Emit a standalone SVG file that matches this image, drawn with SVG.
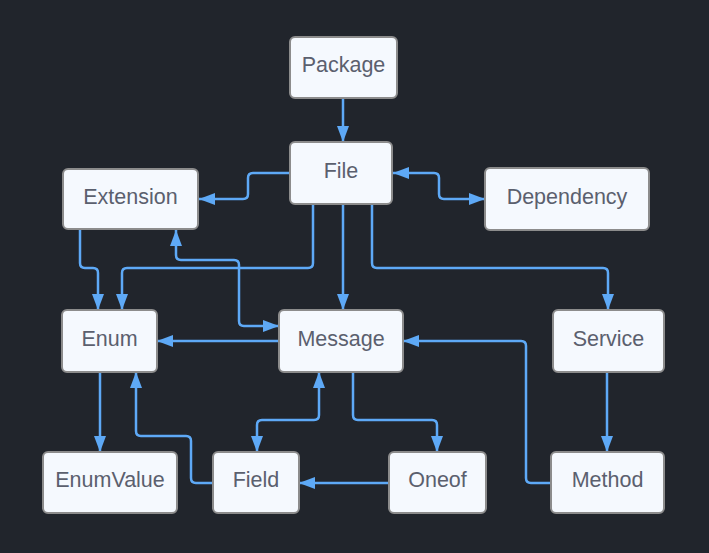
<svg xmlns="http://www.w3.org/2000/svg" width="709" height="553" viewBox="0 0 709 553">
<style>
.bg{fill:#21252c}
.node rect{fill:#f5f9fe;stroke:#8c8c8c;stroke-width:2}
.node text{font-family:"Liberation Sans",Arial,sans-serif;font-size:21.5px;fill:#5b606e;text-anchor:middle}
.edge{fill:none;stroke:#5ea9f6;stroke-width:2.5}
</style>
<defs>
<marker id="arr" viewBox="0 0 16 12" markerUnits="userSpaceOnUse" markerWidth="16" markerHeight="12" refX="16" refY="6" orient="auto-start-reverse">
<path d="M0,0 L16,6 L0,12 z" fill="#5ea9f6"/>
</marker>
</defs>
<rect class="bg" x="0" y="0" width="709" height="553"/>
<g id="connectors">
<path class="edge" d="M343,98 V142" marker-end="url(#arr)"/>
<path class="edge" d="M290,173 H253 Q248,173 248,178 V194 Q248,199 243,199 H199" marker-end="url(#arr)"/>
<path class="edge" d="M393,173 H434 Q439,173 439,178 V194 Q439,199 444,199 H485" marker-start="url(#arr)" marker-end="url(#arr)"/>
<path class="edge" d="M80,229 V263 Q80,268 85,268 H93 Q98,268 98,273 V310" marker-end="url(#arr)"/>
<path class="edge" d="M313,204 V263 Q313,268 308,268 H127 Q122,268 122,273 V310" marker-end="url(#arr)"/>
<path class="edge" d="M176,230 V255 Q176,260 181,260 H234 Q239,260 239,265 V321 Q239,326 244,326 H279" marker-start="url(#arr)" marker-end="url(#arr)"/>
<path class="edge" d="M343,204 V310" marker-end="url(#arr)"/>
<path class="edge" d="M372,204 V263 Q372,268 377,268 H603 Q608,268 608,273 V310" marker-end="url(#arr)"/>
<path class="edge" d="M279,341 H157" marker-end="url(#arr)"/>
<path class="edge" d="M551,483 H531 Q526,483 526,478 V346 Q526,341 521,341 H403" marker-end="url(#arr)"/>
<path class="edge" d="M607,372 V452" marker-end="url(#arr)"/>
<path class="edge" d="M100,372 V452" marker-end="url(#arr)"/>
<path class="edge" d="M213,483 H196 Q191,483 191,478 V441 Q191,436 186,436 H141 Q136,436 136,431 V372" marker-end="url(#arr)"/>
<path class="edge" d="M319,372 V415 Q319,420 314,420 H262 Q257,420 257,425 V452" marker-start="url(#arr)" marker-end="url(#arr)"/>
<path class="edge" d="M389,483 H299" marker-end="url(#arr)"/>
<path class="edge" d="M353,372 V415 Q353,420 358,420 H432 Q437,420 437,425 V452" marker-end="url(#arr)"/>
</g>
<g id="package" class="node"><rect x="290" y="37" width="107" height="61" rx="5"/><text x="343.5" y="72">Package</text></g>
<g id="file" class="node"><rect x="290" y="142" width="102" height="62" rx="5"/><text x="341" y="177.5">File</text></g>
<g id="extension" class="node"><rect x="63" y="169" width="135" height="60" rx="5"/><text x="130.5" y="203.5">Extension</text></g>
<g id="dependency" class="node"><rect x="485" y="168" width="164" height="62" rx="5"/><text x="567" y="203.5">Dependency</text></g>
<g id="enum" class="node"><rect x="62" y="310" width="95" height="62" rx="5"/><text x="109.5" y="345.5">Enum</text></g>
<g id="message" class="node"><rect x="279" y="310" width="124" height="62" rx="5"/><text x="341" y="345.5">Message</text></g>
<g id="service" class="node"><rect x="553" y="310" width="111" height="62" rx="5"/><text x="608.5" y="345.5">Service</text></g>
<g id="enumvalue" class="node"><rect x="43" y="452" width="134" height="61" rx="5"/><text x="110" y="487">EnumValue</text></g>
<g id="field" class="node"><rect x="213" y="452" width="86" height="61" rx="5"/><text x="256" y="487">Field</text></g>
<g id="oneof" class="node"><rect x="389" y="452" width="97" height="61" rx="5"/><text x="437.5" y="487">Oneof</text></g>
<g id="method" class="node"><rect x="551" y="452" width="113" height="61" rx="5"/><text x="607.5" y="487">Method</text></g>
</svg>
